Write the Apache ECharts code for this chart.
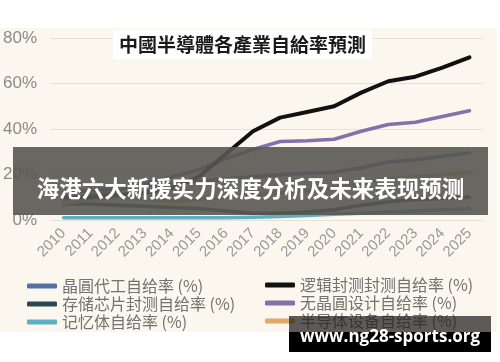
<!DOCTYPE html>
<html>
<head>
<meta charset="utf-8">
<script src="https://cdn.jsdelivr.net/npm/echarts@6/dist/echarts.min.js"></script>
<style>
html,body{margin:0;padding:0;background:#fff;}
#chart{width:500px;height:362px;}
</style>
</head>
<body>
<div id="chart"></div>
<script>
const years = ['2010','2011','2012','2013','2014','2015','2016','2017','2018','2019','2020','2021','2022','2023','2024','2025'];
const yTicks = [0, 20, 40, 60, 80];
const seriesNames = ['晶圓代工自给率 (%)','存储芯片封测自给率 (%)','记忆体自给率 (%)','逻辑封测封测自给率 (%)','无晶圓设计自给率 (%)','半导体设备自给率 (%)'];
const waferFoundry = [12, 13, 14, 15, 16, 17, 18, 19, 20, 20.5, 21, 23, 25.5, 26.5, 28, 29.5];
const storagePackaging = [7, 7, 6.5, 6, 5.5, 5, 4, 3, 3, 3.5, 4.5, 6.5, 8, 9, 9.5, 10];
const memory = [1, 1, 1, 1, 1, 1, 1, 1.2, 1.5, 2, 2.5, 3, 3.5, 4, 4.5, 5];
const logicPackaging = [10, 10, 11, 12, 14, 19, 29, 39, 45, 47.5, 50, 56, 61, 63, 67, 71.5];
const fablessDesign = [9, 11, 13, 16, 19, 22, 27, 31, 34.5, 34.8, 35.5, 39, 42, 43, 45.5, 48];
const equipment = [7, 9, 10, 9, 8, 9, 10, 11, 12, 13, 14, 16, 18, 19, 20, 21];
const colors = ['#5473a3','#2c4852','#5cb0c2','#111111','#8470aa','#e2a868'];
const bannerText = '海港六大新援实力深度分析及未来表现预测';
const watermark = 'www.ng28-sports.org';
const titleText = '中國半導體各產業自給率預測';

const dataSets = [waferFoundry, storagePackaging, memory, logicPackaging, fablessDesign, equipment];
const chart = echarts.init(document.getElementById('chart'), null, {renderer:'canvas'});
const legendBase = {
  orient: 'vertical', itemWidth: 30, itemHeight: 5, itemGap: 2, icon: 'roundRect',
  textStyle: {fontFamily: 'Noto Sans CJK SC', fontSize: 16, color: '#727272', lineHeight: 16}
};
chart.setOption({
  animation: false,
  backgroundColor: '#ffffff',
  title: {
    text: titleText, left: 113, top: 30, padding: [5, 6, 5, 6],
    backgroundColor: '#ffffff',
    textStyle: {fontFamily: 'Noto Sans CJK TC', fontSize: 19, fontWeight: 'bold', color: '#1a1a1a'}
  },
  grid: {left: 50, right: 17, top: 38, bottom: 142, containLabel: false},
  legend: [
    Object.assign({}, legendBase, {left: 22, top: 273, data: seriesNames.slice(0, 3)}),
    Object.assign({}, legendBase, {left: 260, top: 272, data: seriesNames.slice(3, 6)})
  ],
  xAxis: {
    type: 'category', data: years, boundaryGap: true,
    axisLine: {show: false}, axisTick: {show: false},
    axisLabel: {interval: 0, rotate: 45, margin: 11, fontSize: 15, color: '#9a9a9a', fontFamily: 'Liberation Sans'}
  },
  yAxis: {
    type: 'value', min: yTicks[0], max: yTicks[yTicks.length - 1], interval: 20,
    axisLine: {show: false}, axisTick: {show: false},
    axisLabel: {formatter: '{value}%', margin: 13, fontSize: 17, color: '#8a8a8a', fontFamily: 'Liberation Sans'},
    splitLine: {lineStyle: {color: '#e4e0d8', width: 1}}
  },
  series: dataSets.map((d, i) => ({
    name: seriesNames[i], type: 'line', data: d, symbol: 'none',
    lineStyle: {width: i === 3 ? 4 : 3.5, color: colors[i], cap: 'round', join: 'round'},
    itemStyle: {color: colors[i]}, z: 2 + (i === 3 ? 2 : 0)
  })),
  graphic: [
    {type: 'rect', z: -100, silent: true, shape: {x: 0, y: 28, width: 497, height: 304}, style: {fill: '#fbf7ef'}},
    {type: 'rect', z: 100, silent: true, shape: {x: 13, y: 147, width: 475, height: 68}, style: {fill: 'rgba(88,86,82,0.9)'}},
    {type: 'text', z: 101, silent: true, x: 250.5, y: 188,
     style: {text: bannerText, fill: '#ffffff', font: 'bold 22.5px "Noto Sans CJK SC"', textAlign: 'center', textVerticalAlign: 'middle'}},
    {type: 'rect', z: 100, silent: true, shape: {x: 289, y: 316, width: 202, height: 16}, style: {fill: 'rgba(30,30,30,0.72)'}},
    {type: 'rect', z: 100, silent: true, shape: {x: 289, y: 332, width: 202, height: 20}, style: {fill: '#000000'}},
    {type: 'text', z: 101, silent: true, x: 390, y: 337,
     style: {text: watermark, fill: '#ffffff', font: 'bold 17px "Open Sans"', textAlign: 'center', textVerticalAlign: 'middle'}}
  ]
});
</script>
</body>
</html>
